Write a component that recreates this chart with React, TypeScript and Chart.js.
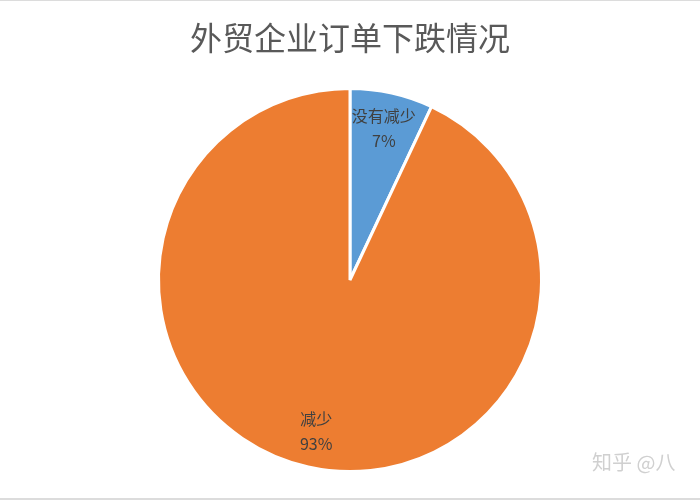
import React, { useEffect, useRef } from "react";
import { Chart, registerables } from "chart.js";

Chart.register(...registerables);

const categories = ["没有减少", "减少"];
const values = [7, 93];
const colors = ["#5B9BD5", "#ED7D31"];
const titleText = "外贸企业订单下跌情况";
const watermarkText = "知乎 @八";

const FONT = '"Noto Sans CJK SC", "Noto Sans", sans-serif';

const labelPlugin = {
  id: "sliceLabels",
  afterDatasetsDraw(chart: any) {
    const ctx = chart.ctx;
    const meta = chart.getDatasetMeta(0);
    const data = chart.data.datasets[0].data as number[];
    const total = data.reduce((a, b) => a + b, 0);
    ctx.save();
    ctx.font = `16px ${FONT}`;
    ctx.fillStyle = "#404040";
    ctx.textAlign = "center";
    ctx.textBaseline = "middle";
    meta.data.forEach((arc: any, i: number) => {
      const mid = (arc.startAngle + arc.endAngle) / 2;
      const r = arc.outerRadius * 0.81;
      const x = arc.x + Math.cos(mid) * r;
      const y = arc.y + Math.sin(mid) * r;
      ctx.fillText(chart.data.labels[i], x, y - 12.5);
      ctx.fillText(`${Math.round((data[i] / total) * 100)}%`, x, y + 12.5);
    });
    ctx.restore();
  },
  afterDraw(chart: any) {
    const ctx = chart.ctx;
    ctx.save();
    ctx.font = `20px ${FONT}`;
    ctx.fillStyle = "#d0d0d0";
    ctx.textAlign = "left";
    ctx.textBaseline = "middle";
    ctx.fillText(watermarkText, 592, 462);
    ctx.fillStyle = "#dcdcdc";
    ctx.fillRect(0, 0, chart.width, 1);
    ctx.fillRect(0, chart.height - 2, chart.width, 2);
    ctx.restore();
  },
};

export default function App() {
  const ref = useRef<HTMLCanvasElement>(null);
  useEffect(() => {
    document.body.style.margin = "0";
    const chart = new Chart(ref.current!, {
      type: "pie",
      data: {
        labels: categories,
        datasets: [
          {
            data: values,
            backgroundColor: colors,
            borderColor: "#ffffff",
            borderWidth: 3,
          },
        ],
      },
      options: {
        responsive: false,
        animation: false,
        layout: { padding: { top: 0, bottom: 27, left: 0, right: 0 } },
        plugins: {
          legend: { display: false },
          tooltip: { enabled: false },
          title: {
            display: true,
            text: titleText,
            color: "#595959",
            font: { family: FONT, size: 32, weight: "normal", lineHeight: 1.125 },
            padding: { top: 20, bottom: 31 },
          },
        },
      },
      plugins: [labelPlugin],
    });
    return () => chart.destroy();
  }, []);
  return (
    <div style={{ width: 700, height: 500, background: "#fff" }}>
      <canvas ref={ref} width={700} height={500} />
    </div>
  );
}
